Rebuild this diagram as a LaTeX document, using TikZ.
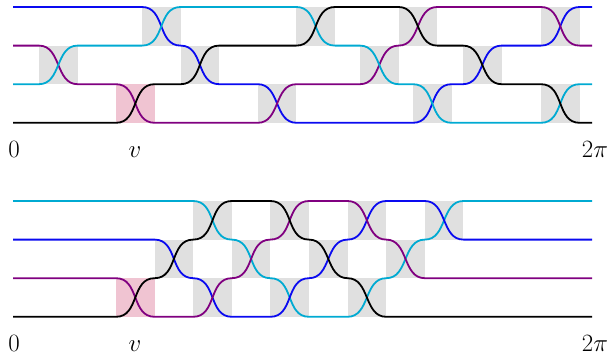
\documentclass[tikz,border=0pt]{standalone}
\usepackage{tikz}

\definecolor{sBlue}{RGB}{10,10,240}
\definecolor{sPurple}{RGB}{128,0,128}
\definecolor{sCyan}{RGB}{0,170,210}
\definecolor{boxGray}{RGB}{224,224,224}
\definecolor{boxPink}{RGB}{240,196,210}

\tikzset{
  strand/.style={line width=1.8pt},
  xg/.style={out=0,in=180,looseness=1.1},
  swapbox/.style={fill=boxGray},
  keybox/.style={fill=boxPink},
  axislabel/.style={anchor=base,inner sep=0pt,font=\fontsize{24}{28}\selectfont},
}

\begin{document}
\begin{tikzpicture}[x=1pt,y=-1pt]
\useasboundingbox (0,0) rectangle (608,356);

% ---------------- upper braid ----------------
% strand levels
\def\A{7}\def\B{45.6}\def\C{84.2}\def\D{122.8}
% crossing cells (width 38.6)
\fill[swapbox] (39,\B) rectangle +(38.6,38.6);
\fill[keybox]  (116,\C) rectangle +(38.6,38.6);
\fill[swapbox] (142,\A) rectangle +(38.6,38.6);
\fill[swapbox] (180.6,\B) rectangle +(38.6,38.6);
\fill[swapbox] (257.8,\C) rectangle +(38.6,38.6);
\fill[swapbox] (296.4,\A) rectangle +(38.6,38.6);
\fill[swapbox] (360,\B) rectangle +(38.6,38.6);
\fill[swapbox] (398.6,\A) rectangle +(38.6,38.6);
\fill[swapbox] (413,\C) rectangle +(38.6,38.6);
\fill[swapbox] (463,\B) rectangle +(38.6,38.6);
\fill[swapbox] (541,\A) rectangle +(38.6,38.6);
\fill[swapbox] (541,\C) rectangle +(38.6,38.6);

\draw[strand,sBlue] (13,\A) -- (142,\A) to[xg] (180.6,\B) to[xg] (219.2,\C)
  -- (257.8,\C) to[xg] (296.4,\D) -- (413,\D) to[xg] (451.6,\C)
  -- (463,\C) to[xg] (501.6,\B) -- (541,\B) to[xg] (579.6,\A) -- (592,\A);
\draw[strand,sPurple] (13,\B) -- (39,\B) to[xg] (77.6,\C) -- (116,\C) to[xg] (154.6,\D)
  -- (257.8,\D) to[xg] (296.4,\C) -- (360,\C) to[xg] (398.6,\B) to[xg] (437.2,\A)
  -- (541,\A) to[xg] (579.6,\B) -- (592,\B);
\draw[strand,sCyan] (13,\C) -- (39,\C) to[xg] (77.6,\B) -- (142,\B) to[xg] (180.6,\A)
  -- (296.4,\A) to[xg] (335,\B) -- (360,\B) to[xg] (398.6,\C) -- (413,\C) to[xg] (451.6,\D)
  -- (541,\D) to[xg] (579.6,\C) -- (592,\C);
\draw[strand,black] (13,\D) -- (116,\D) to[xg] (154.6,\C) -- (180.6,\C) to[xg] (219.2,\B)
  -- (296.4,\B) to[xg] (335,\A) -- (398.6,\A) to[xg] (437.2,\B) -- (463,\B) to[xg] (501.6,\C)
  -- (541,\C) to[xg] (579.6,\D) -- (592,\D);

\node[axislabel] (zeroTop) at (14,157) {$0$};
\node[axislabel] (vTop) at (135,157) {$v$};
\node[axislabel] (endTop) at (595,157) {$2\pi$};

% ---------------- lower braid ----------------
\def\A{201}\def\B{239.6}\def\C{278.2}\def\D{316.8}
\fill[keybox]  (116,\C) rectangle +(38.6,38.6);
\fill[swapbox] (154.6,\B) rectangle +(38.6,38.6);
\fill[swapbox] (193.2,\A) rectangle +(38.6,38.6);
\fill[swapbox] (193.2,\C) rectangle +(38.6,38.6);
\fill[swapbox] (231.8,\B) rectangle +(38.6,38.6);
\fill[swapbox] (270.4,\A) rectangle +(38.6,38.6);
\fill[swapbox] (270.4,\C) rectangle +(38.6,38.6);
\fill[swapbox] (309,\B) rectangle +(38.6,38.6);
\fill[swapbox] (347.6,\A) rectangle +(38.6,38.6);
\fill[swapbox] (347.6,\C) rectangle +(38.6,38.6);
\fill[swapbox] (386.2,\B) rectangle +(38.6,38.6);
\fill[swapbox] (424.8,\A) rectangle +(38.6,38.6);

\draw[strand,sCyan] (13,\A) -- (193.2,\A) to[xg] (231.8,\B) to[xg] (270.4,\C) to[xg] (309,\D)
  -- (347.6,\D) to[xg] (386.2,\C) to[xg] (424.8,\B) to[xg] (463.4,\A) -- (592,\A);
\draw[strand,sBlue] (13,\B) -- (154.6,\B) to[xg] (193.2,\C) to[xg] (231.8,\D)
  -- (270.4,\D) to[xg] (309,\C) to[xg] (347.6,\B) to[xg] (386.2,\A)
  -- (424.8,\A) to[xg] (463.4,\B) -- (592,\B);
\draw[strand,sPurple] (13,\C) -- (116,\C) to[xg] (154.6,\D) -- (193.2,\D) to[xg] (231.8,\C)
  to[xg] (270.4,\B) to[xg] (309,\A) -- (347.6,\A) to[xg] (386.2,\B) to[xg] (424.8,\C) -- (592,\C);
\draw[strand,black] (13,\D) -- (116,\D) to[xg] (154.6,\C) to[xg] (193.2,\B) to[xg] (231.8,\A)
  -- (270.4,\A) to[xg] (309,\B) to[xg] (347.6,\C) to[xg] (386.2,\D) -- (592,\D);

\node[axislabel] (zeroBot) at (14,351) {$0$};
\node[axislabel] (vBot) at (135,351) {$v$};
\node[axislabel] (endBot) at (595,351) {$2\pi$};
\end{tikzpicture}
\end{document}
